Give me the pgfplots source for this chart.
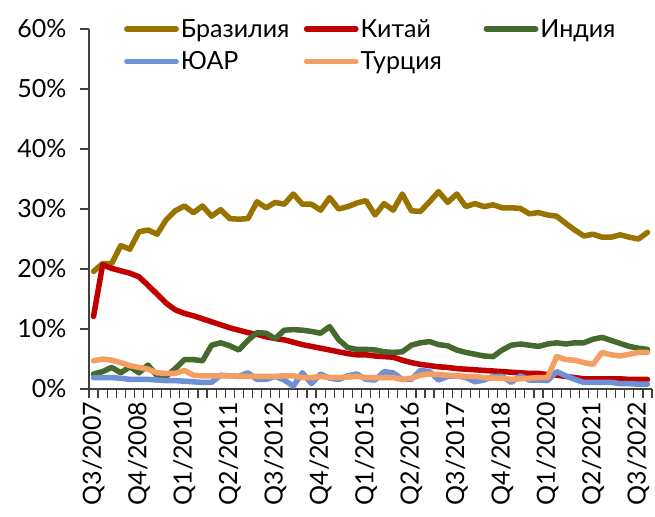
\documentclass[border=0pt]{standalone}
\usepackage{pgfplots}
\usepackage{pgfplotstable}
\pgfplotsset{compat=1.18}
\usepackage{fontspec}
\setmainfont{Lato}
\definecolor{cBR}{RGB}{153,115,0}
\definecolor{cCN}{RGB}{192,0,0}
\definecolor{cIN}{RGB}{69,106,45}
\definecolor{cZA}{RGB}{109,145,212}
\definecolor{cTR}{RGB}{244,158,100}
\pgfplotstableread{
i BR CN IN ZA TR
0 19.6 12.1 2.5 1.9 4.7
1 20.9 20.7 2.9 1.9 5.0
2 20.9 20.1 3.6 1.9 4.8
3 23.9 19.7 2.7 1.8 4.4
4 23.3 19.3 3.7 1.6 3.9
5 26.2 18.7 2.7 1.6 3.6
6 26.5 17.3 4.0 1.6 3.3
7 25.8 15.8 2.2 1.5 2.7
8 28.2 14.3 2.1 1.4 2.6
9 29.7 13.2 3.4 1.4 2.6
10 30.5 12.6 4.9 1.3 3.1
11 29.4 12.2 4.9 1.2 2.3
12 30.5 11.7 4.7 1.1 2.2
13 28.8 11.2 7.3 1.1 2.2
14 29.9 10.7 7.7 2.3 2.2
15 28.4 10.2 7.2 2.2 2.2
16 28.3 9.8 6.5 2.1 2.1
17 28.4 9.4 8.1 2.7 2.1
18 31.2 9.1 9.4 1.6 2.1
19 30.2 8.7 9.3 1.6 2.1
20 31.1 8.4 8.4 2.1 2.1
21 30.8 8.2 9.8 1.5 2.2
22 32.5 7.8 9.9 0.5 2.2
23 30.8 7.4 9.8 2.7 1.9
24 30.8 7.1 9.6 0.9 1.9
25 29.8 6.8 9.3 2.5 2.1
26 31.9 6.5 10.4 1.8 1.9
27 30.0 6.2 8.2 1.6 1.9
28 30.4 5.9 6.9 2.2 2.0
29 31.0 5.7 6.6 2.5 2.1
30 31.4 5.7 6.6 1.6 1.9
31 29.0 5.5 6.5 1.5 1.9
32 30.9 5.4 6.2 2.9 1.9
33 29.8 5.3 6.1 2.7 1.9
34 32.5 4.8 6.2 1.6 1.6
35 29.7 4.4 7.3 1.6 1.8
36 29.6 4.1 7.7 3.1 2.3
37 31.2 3.9 7.9 2.9 2.5
38 32.9 3.7 7.4 1.5 2.4
39 31.1 3.6 7.2 2.1 2.3
40 32.5 3.4 6.5 2.2 2.2
41 30.4 3.3 6.1 1.9 2.1
42 30.9 3.2 5.8 1.2 2.1
43 30.4 3.1 5.5 1.5 1.9
44 30.7 3.0 5.4 2.1 1.8
45 30.2 2.9 6.5 2.1 1.8
46 30.2 2.8 7.3 1.1 1.6
47 30.1 2.7 7.5 2.2 1.7
48 29.2 2.6 7.3 1.5 1.8
49 29.4 2.6 7.1 1.5 1.9
50 29.0 2.4 7.5 1.4 1.9
51 28.8 2.3 7.7 2.9 5.4
52 27.6 2.1 7.5 2.2 4.9
53 26.5 1.9 7.7 1.6 4.8
54 25.5 1.7 7.7 1.1 4.4
55 25.8 1.7 8.3 1.1 4.1
56 25.3 1.7 8.6 1.1 6.1
57 25.3 1.7 8.1 1.1 5.7
58 25.7 1.7 7.6 0.9 5.5
59 25.3 1.6 7.1 0.9 5.8
60 25.0 1.6 6.8 0.8 6.1
61 26.1 1.6 6.6 0.8 6.1
}\datatable
\begin{document}
\begin{tikzpicture}
\begin{axis}[name=ax,
  scale only axis, width=563pt, height=360pt,
  xmin=-0.5, xmax=61.5, ymin=0, ymax=60,
  axis lines=left,
  axis line style={-, line width=1.2pt, black!75},
  tick align=outside,
  major tick length=9pt, minor tick length=9pt,
  tick style={line width=1.2pt, black!75},
  xtick={0,5,...,60},
  xticklabels={Q3/2007,Q4/2008,Q1/2010,Q2/2011,Q3/2012,Q4/2013,Q1/2015,Q2/2016,Q3/2017,Q4/2018,Q1/2020,Q2/2021,Q3/2022},
  major x tick style={draw=none},
  minor xtick={-0.5,0.5,...,61.5},
  ytick={0,10,...,60},
  yticklabel={\pgfmathprintnumber{\tick}\%},
  /pgf/number format/assume math mode=true,
  every tick label/.append style={font=\fontsize{25}{30}\selectfont, text=black},
  xticklabel style={rotate=90, anchor=east},
  yticklabel style={xshift=-10pt},
  legend columns=3,
  legend cell align=left,
  legend style={at={(rel axis cs:0.062,1.033)}, anchor=north west, draw=none, fill=none,
    font=\fontsize{25}{30}\selectfont, row sep=9pt, inner sep=0pt,
    nodes={inner sep=2pt}},
  legend image code/.code={\draw[#1, line width=5.5pt, line cap=round] (2.75pt,0pt) -- (52pt,0pt);},
  every axis plot/.append style={line width=5.5pt, line join=round, line cap=round},
]
\addplot[cBR] table[x=i, y=BR] {\datatable};
\addlegendentry{\makebox[121pt][l]{Бразилия}}
\addplot[cCN] table[x=i, y=CN] {\datatable};
\addlegendentry{\makebox[121pt][l]{Китай}}
\addplot[cIN] table[x=i, y=IN] {\datatable};
\addlegendentry{\makebox[121pt][l]{Индия}}
\addplot[cZA] table[x=i, y=ZA] {\datatable};
\addlegendentry{\makebox[121pt][l]{ЮАР}}
\addplot[cTR] table[x=i, y=TR] {\datatable};
\addlegendentry{\makebox[121pt][l]{Турция}}
\end{axis}
\pgfresetboundingbox
\path ([shift={(-89pt,-127pt)}]ax.south west) rectangle ([shift={(3pt,29pt)}]ax.north east);
\end{tikzpicture}
\end{document}
